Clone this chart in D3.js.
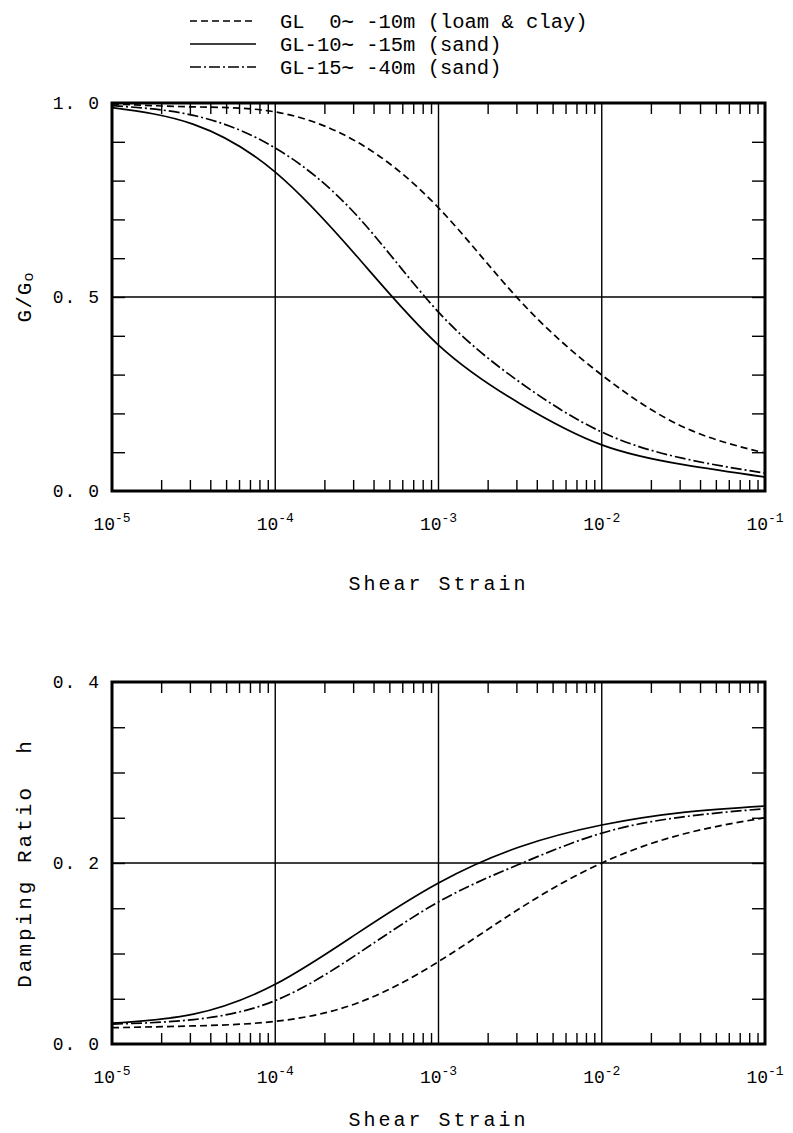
<!DOCTYPE html>
<html>
<head>
<meta charset="utf-8">
<title>G/Go and Damping Ratio vs Shear Strain</title>
<script src="https://d3js.org/d3.v7.min.js"></script>
<style>
  body { margin: 0; background: #fff; }
  text { font-family: "Liberation Mono", "DejaVu Sans Mono", monospace; fill: #000; white-space: pre; }
</style>
</head>
<body>
<script>
var strain = [1e-5, 3.16e-5, 1e-4, 3.16e-4, 1e-3, 3.16e-3, 1e-2, 3.16e-2, 1e-1];

// G/Go
var gLoam  = [0.998, 0.990, 0.977, 0.900, 0.730, 0.490, 0.299, 0.165, 0.098];
var gSand1 = [0.988, 0.945, 0.822, 0.605, 0.376, 0.225, 0.119, 0.068, 0.036];
var gSand2 = [0.993, 0.968, 0.884, 0.710, 0.461, 0.280, 0.152, 0.084, 0.046];

// damping ratio h
var hLoam  = [0.018, 0.020, 0.025, 0.045, 0.091, 0.150, 0.200, 0.232, 0.250];
var hSand1 = [0.023, 0.033, 0.066, 0.122, 0.178, 0.218, 0.242, 0.256, 0.263];
var hSand2 = [0.022, 0.027, 0.048, 0.099, 0.157, 0.199, 0.233, 0.251, 0.260];

var legendLabels = ["GL  0\u223C -10m (loam & clay)", "GL-10\u223C -15m (sand)", "GL-15\u223C -40m (sand)"];
var dashes = ["7,4", null, "11,3,2,3"];

var decades = [1e-5, 1e-4, 1e-3, 1e-2, 1e-1];
var gridX = [1e-4, 1e-3, 1e-2];

var W = 793, H = 1133;
var svg = d3.select("body").append("svg").attr("width", W).attr("height", H);

var left = 112, right = 765;

function minorTicks() {
  var out = [];
  for (var d = 0; d < decades.length - 1; d++)
    for (var k = 2; k <= 9; k++) out.push(decades[d] * k);
  return out;
}

function panel(top, bottom, yMax, yMinor, yLabels, gridY, series, ylabel, isG, titleY) {
  var x = d3.scaleLog().domain([1e-5, 1e-1]).range([left, right]);
  var y = d3.scaleLinear().domain([0, yMax]).range([bottom, top]);
  var g = svg.append("g");

  // grid lines
  g.selectAll(".gx").data(gridX).enter().append("line")
    .attr("x1", function(d) { return x(d); }).attr("x2", function(d) { return x(d); })
    .attr("y1", top).attr("y2", bottom).attr("stroke", "#000").attr("stroke-width", 1.4);
  g.append("line").attr("x1", left).attr("x2", right)
    .attr("y1", y(gridY)).attr("y2", y(gridY)).attr("stroke", "#000").attr("stroke-width", 1.4);

  // inward minor ticks
  var mx = minorTicks();
  g.append("g").attr("transform", "translate(0," + bottom + ")")
    .call(d3.axisBottom(x).tickValues(mx).tickSize(-11).tickFormat(""));
  g.append("g").attr("transform", "translate(0," + top + ")")
    .call(d3.axisTop(x).tickValues(mx).tickSize(-11).tickFormat(""));
  g.append("g").attr("transform", "translate(" + left + ",0)")
    .call(d3.axisLeft(y).tickValues(yMinor).tickSize(-13).tickFormat(""));
  g.append("g").attr("transform", "translate(" + right + ",0)")
    .call(d3.axisRight(y).tickValues(yMinor).tickSize(-13).tickFormat(""));
  g.selectAll(".domain").remove();
  g.selectAll(".tick line").attr("stroke", "#000").attr("stroke-width", 1.4);

  // curves
  var line = d3.line()
    .x(function(d, i) { return x(strain[i]); })
    .y(function(d) { return y(d); })
    .curve(d3.curveNatural);
  series.forEach(function(s, i) {
    g.append("path").attr("d", line(s)).attr("fill", "none")
      .attr("stroke", "#000").attr("stroke-width", 1.7)
      .attr("stroke-dasharray", dashes[i]);
  });

  // frame
  g.append("rect").attr("x", left).attr("y", top)
    .attr("width", right - left).attr("height", bottom - top)
    .attr("fill", "none").attr("stroke", "#000").attr("stroke-width", 3);

  // y tick labels
  g.selectAll(".yl").data(yLabels).enter().append("text")
    .attr("x", left - 12).attr("y", function(d) { return y(d) + 6; })
    .attr("text-anchor", "end").attr("font-size", 18).attr("letter-spacing", 1)
    .text(function(d) { return d.toFixed(1).replace(".", ". "); });

  // x tick labels 10^n
  decades.forEach(function(d) {
    var t = g.append("text").attr("x", x(d)).attr("y", bottom + 39)
      .attr("text-anchor", "middle").attr("font-size", 18);
    t.append("tspan").text("10");
    t.append("tspan").attr("dy", -8).attr("font-size", 13)
      .text("-" + Math.round(-Math.log10(d)));
  });

  g.append("text").attr("x", (left + right) / 2).attr("y", titleY)
    .attr("text-anchor", "middle").attr("font-size", 20).attr("letter-spacing", 3)
    .text("Shear Strain");

  var yl = g.append("text")
    .attr("transform", "translate(31," + (top + bottom) / 2 + ") rotate(-90)")
    .attr("text-anchor", "middle").attr("font-size", 21);
  if (isG) {
    yl.attr("letter-spacing", 1);
    yl.append("tspan").text("G/G");
    yl.append("tspan").attr("font-size", 15).attr("dy", 2).text("o");
  } else {
    yl.attr("letter-spacing", 3).text(ylabel);
  }
}

panel(103, 491, 1.0, d3.range(1, 10).map(function(i) { return i / 10; }),
  [0, 0.5, 1.0], 0.5, [gLoam, gSand1, gSand2], "G/Go", true, 590);
panel(682, 1044, 0.4, d3.range(1, 8).map(function(i) { return i * 0.05; }),
  [0, 0.2, 0.4], 0.2, [hLoam, hSand1, hSand2], "Damping Ratio  h", false, 1126);

// legend
var leg = svg.append("g");
legendLabels.forEach(function(lab, i) {
  var yy = 21 + i * 23;
  leg.append("line").attr("x1", 190).attr("x2", 256).attr("y1", yy).attr("y2", yy)
    .attr("stroke", "#000").attr("stroke-width", 1.5).attr("stroke-dasharray", dashes[i]);
  leg.append("text").attr("x", 280).attr("y", yy + 7).attr("font-size", 20.5)
    .text(lab);
});
</script>
</body>
</html>
